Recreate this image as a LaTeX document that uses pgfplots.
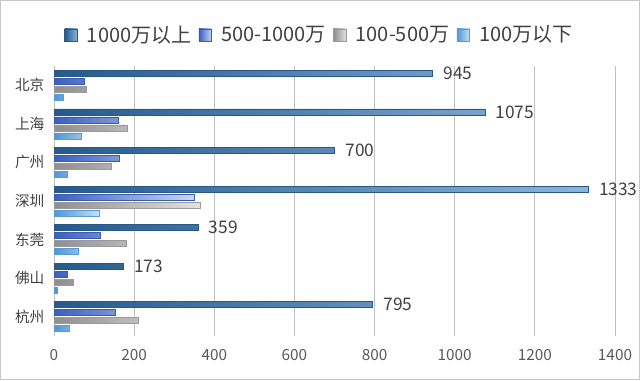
\documentclass[border=0pt]{standalone}
\usepackage{pgfplots}
\pgfplotsset{compat=1.18}
\usepackage{fontspec}
\setmainfont{Noto Sans CJK SC}
\definecolor{txt}{HTML}{404040}
\definecolor{tick}{HTML}{595959}
\definecolor{grid}{HTML}{D9D9D9}
\definecolor{aL}{HTML}{245A8C}\definecolor{aR}{HTML}{8DB5DC}\definecolor{aD}{HTML}{2A5783}
\definecolor{bL}{HTML}{3A5FC0}\definecolor{bR}{HTML}{CAD7F2}\definecolor{bD}{HTML}{3B5AA8}
\definecolor{cL}{HTML}{8E8E8E}\definecolor{cR}{HTML}{E2E2E2}\definecolor{cD}{HTML}{9A9A9A}
\definecolor{dL}{HTML}{4F95D6}\definecolor{dR}{HTML}{C4DFF5}\definecolor{dD}{HTML}{5B9BD5}
\begin{document}
\begin{tikzpicture}
\draw[black!22, line width=0.75pt] (0.375pt,0.375pt) rectangle (479.625pt,284.625pt);
\begin{axis}[
  at={(40.5pt,33pt)}, anchor=south west,
  scale only axis, width=420.75pt, height=202.5pt,
  xbar, bar width=4.5pt,
  xmin=0, xmax=1400,
  ymin=-0.5, ymax=6.5,
  xtick={0,200,...,1400},
  ytick={0,1,2,3,4,5,6},
  yticklabels={杭州,佛山,东莞,深圳,广州,上海,北京},
  axis line style={draw=none},
  xmajorgrids, ymajorgrids=false, major grid style={grid, line width=0.75pt},
  major tick length=0pt,
  /pgf/number format/assume math mode=true,
  /pgf/number format/1000 sep={},
  xticklabel style={font=\fontsize{11.5}{12}\selectfont, text=tick, inner sep=0pt, yshift=-10pt},
  yticklabel style={font=\fontsize{11}{12}\selectfont, text=txt, inner sep=0pt, xshift=-7pt},
  legend style={at={(0.472,1.115)}, anchor=center, draw=none, fill=none,
    legend columns=4, font=\fontsize{15}{16}\selectfont, text=txt,
    nodes={inner sep=0.5pt},
    /tikz/every even column/.append style={column sep=5pt}},
  legend image code/.code={\draw[#1] (0pt,-4.5pt) rectangle (9.5pt,4.5pt); \path (16pt,0pt);},
]
\addplot[bar shift=9pt, draw=aD, left color=aL, right color=aR,
  nodes near coords, nodes near coords style={anchor=west, inner sep=0pt, xshift=8pt, font=\fontsize{13}{14}\selectfont, text=txt}]
  coordinates {(945,6) (1075,5) (700,4) (1333,3) (359,2) (173,1) (795,0)};
\addplot[bar shift=3pt, draw=bD, left color=bL, right color=bR]
  coordinates {(76,6) (160,5) (163,4) (349,3) (116,2) (32,1) (153,0)};
\addplot[bar shift=-3pt, draw=cD, left color=cL, right color=cR]
  coordinates {(81,6) (183,5) (142,4) (364,3) (180,2) (47,1) (210,0)};
\addplot[bar shift=-9pt, draw=dD, left color=dL, right color=dR]
  coordinates {(22,6) (68,5) (32,4) (113,3) (61,2) (7,1) (38,0)};
\legend{1000万以上,500-1000万,100-500万,100万以下}
\end{axis}
\end{tikzpicture}
\end{document}
